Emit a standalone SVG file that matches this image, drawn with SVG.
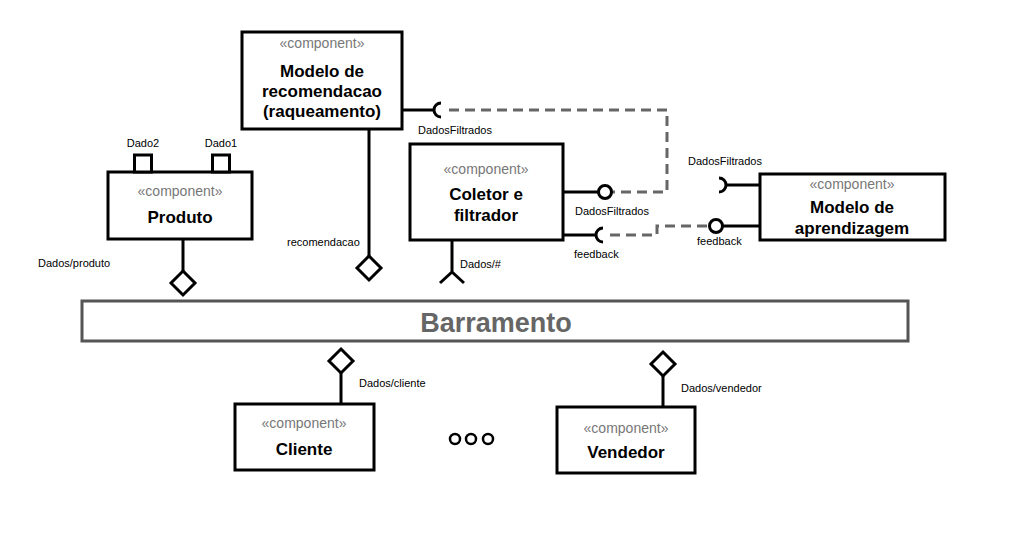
<svg xmlns="http://www.w3.org/2000/svg" width="1026" height="542" viewBox="0 0 1026 542">
<style>
.box{fill:#fff;stroke:#000;stroke-width:3}
.ln{fill:none;stroke:#000;stroke-width:3}
.dash{fill:none;stroke:#666;stroke-width:3;stroke-dasharray:10 6}
.st{font-family:"Liberation Sans",Arial,sans-serif;font-size:14px;fill:#777;text-anchor:middle}
.nm{font-family:"Liberation Sans",Arial,sans-serif;font-size:17px;font-weight:bold;fill:#000;text-anchor:middle}
.lb{font-family:"Liberation Sans",Arial,sans-serif;font-size:11px;fill:#000}
.dia{fill:#fff;stroke:#000;stroke-width:3}
</style>
<rect width="1026" height="542" fill="#fff"/>

<g id="connectors">
  <path class="dash" d="M449 110 H667 V192 H612"/>
  <path class="dash" d="M610 235 H657 V226 H709"/>
</g>

<g id="modelo-recomendacao">
  <rect class="box" x="242" y="32" width="160" height="97"/>
  <text class="st" x="322" y="48">«component»</text>
  <text class="nm" x="322" y="77">Modelo de</text>
  <text class="nm" x="322" y="97">recomendacao</text>
  <text class="nm" x="322" y="117">(raqueamento)</text>
  <path class="ln" d="M402 110 H434"/>
  <path class="ln" d="M441 103 A7 7 0 0 0 441 117"/>
  <text class="lb" x="418" y="134">DadosFiltrados</text>
  <path class="ln" d="M369 129 V256"/>
  <polygon class="dia" points="369,256 381,268 369,280 357,268"/>
  <text class="lb" x="287" y="246">recomendacao</text>
</g>

<g id="produto">
  <rect class="box" x="108" y="172" width="144" height="67"/>
  <rect class="box" x="134.5" y="155" width="17" height="17"/>
  <rect class="box" x="212.5" y="155" width="17" height="17"/>
  <text class="lb" x="143" y="147" text-anchor="middle">Dado2</text>
  <text class="lb" x="221" y="147" text-anchor="middle">Dado1</text>
  <text class="st" x="180" y="196">«component»</text>
  <text class="nm" x="180" y="223">Produto</text>
  <path class="ln" d="M183 239 V271"/>
  <polygon class="dia" points="183,271 195,283 183,295 171,283"/>
  <text class="lb" x="38" y="267">Dados/produto</text>
</g>

<g id="coletor">
  <rect class="box" x="410" y="144" width="153" height="96"/>
  <text class="st" x="486" y="174">«component»</text>
  <text class="nm" x="486" y="200">Coletor e</text>
  <text class="nm" x="486" y="221">filtrador</text>
  <path class="ln" d="M563 192 H598"/>
  <circle class="box" cx="605" cy="192" r="6.5"/>
  <text class="lb" x="575" y="215">DadosFiltrados</text>
  <path class="ln" d="M563 235 H596"/>
  <path class="ln" d="M603 228 A7 7 0 0 0 603 242"/>
  <text class="lb" x="574" y="258">feedback</text>
  <path class="ln" d="M452 240 V272 M440 283 L452 272 L464 283"/>
  <text class="lb" x="460" y="268">Dados/#</text>
</g>

<g id="modelo-aprendizagem">
  <rect class="box" x="760" y="174" width="185" height="66"/>
  <text class="st" x="852" y="189">«component»</text>
  <text class="nm" x="852" y="213">Modelo de</text>
  <text class="nm" x="852" y="234">aprendizagem</text>
  <path class="ln" d="M726 185 H760"/>
  <path class="ln" d="M719 178 A7 7 0 0 1 719 192"/>
  <text class="lb" x="688" y="165">DadosFiltrados</text>
  <path class="ln" d="M723 226 H760"/>
  <circle class="box" cx="716" cy="226" r="6.5"/>
  <text class="lb" x="697" y="245">feedback</text>
</g>

<g id="barramento">
  <rect x="82" y="301" width="826" height="40" fill="#fff" stroke="#555" stroke-width="3"/>
  <text x="496" y="332" font-family="'Liberation Sans',Arial,sans-serif" font-size="27" font-weight="bold" fill="#666" text-anchor="middle">Barramento</text>
</g>

<g id="cliente">
  <polygon class="dia" points="341,349 353,361 341,373 329,361"/>
  <path class="ln" d="M341 373 V404"/>
  <text class="lb" x="359" y="387">Dados/cliente</text>
  <rect class="box" x="235" y="404" width="139" height="66"/>
  <text class="st" x="304" y="428">«component»</text>
  <text class="nm" x="304" y="455">Cliente</text>
</g>

<g id="ellipsis">
  <circle cx="455" cy="439" r="5" fill="none" stroke="#000" stroke-width="2.5"/>
  <circle cx="471" cy="439" r="5" fill="none" stroke="#000" stroke-width="2.5"/>
  <circle cx="488" cy="439" r="5" fill="none" stroke="#000" stroke-width="2.5"/>
</g>

<g id="vendedor">
  <polygon class="dia" points="663,352 675,364 663,376 651,364"/>
  <path class="ln" d="M663 376 V407"/>
  <text class="lb" x="681" y="392">Dados/vendedor</text>
  <rect class="box" x="557" y="407" width="138" height="66"/>
  <text class="st" x="626" y="433">«component»</text>
  <text class="nm" x="626" y="458">Vendedor</text>
</g>
</svg>
